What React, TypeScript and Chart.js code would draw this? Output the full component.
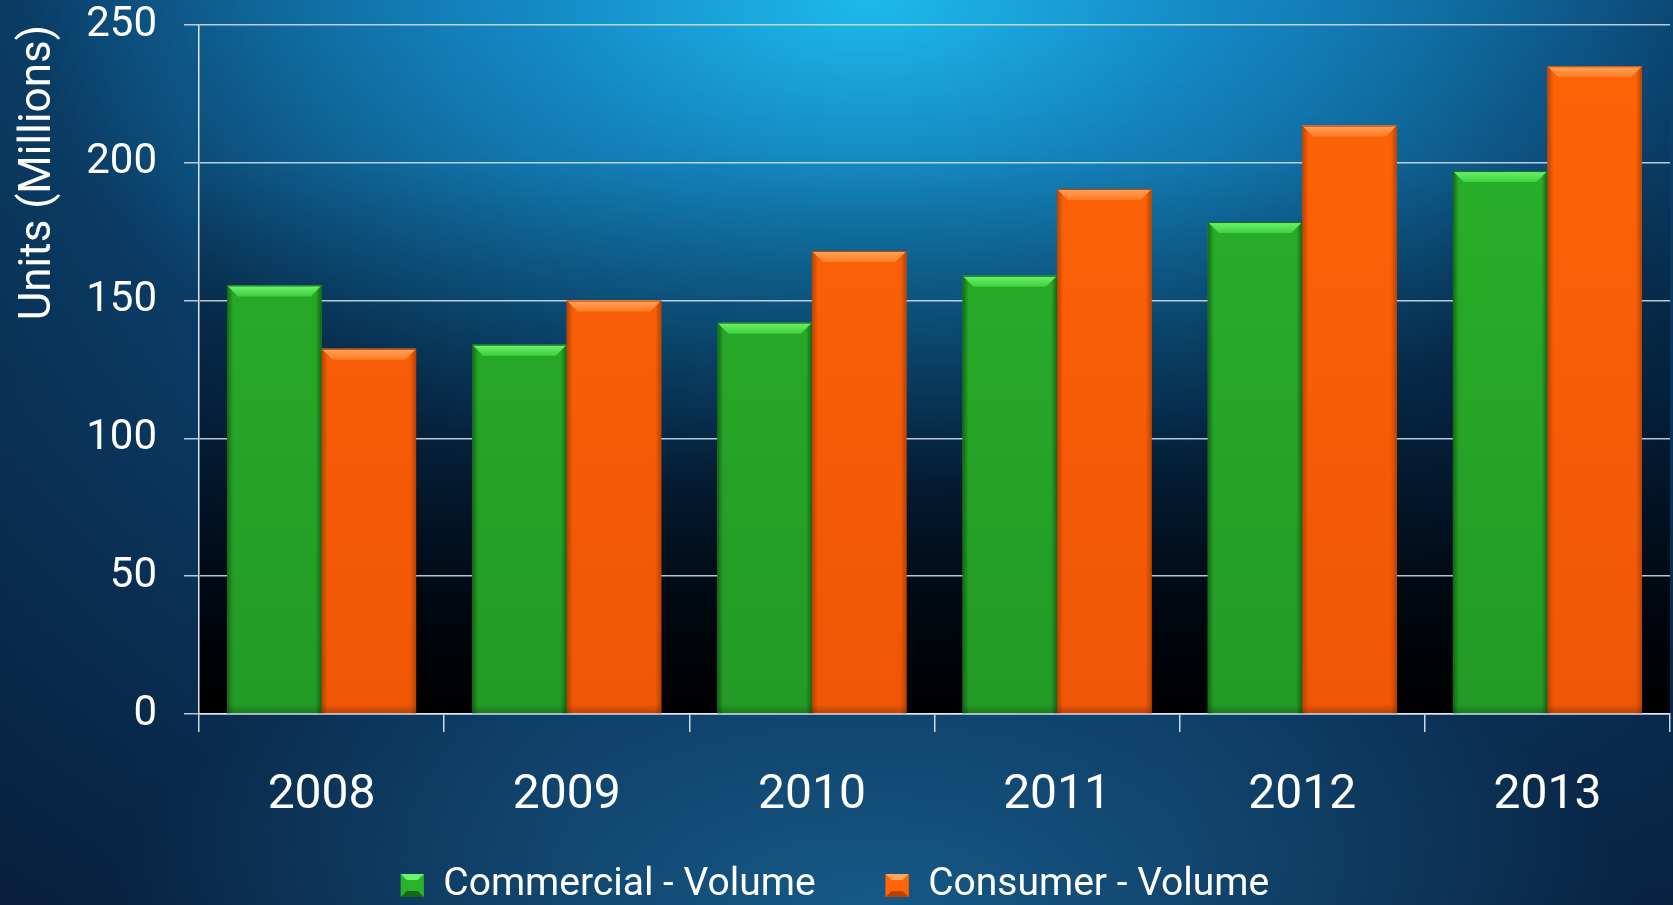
import React, { useEffect, useRef } from "react";
import { Chart, registerables } from "chart.js";

Chart.register(...registerables);

const categories = ["2008", "2009", "2010", "2011", "2012", "2013"];
const commercialVolume = [155.5, 134, 142, 159, 178.5, 197];
const consumerVolume = [132.5, 150, 168, 190.5, 213.5, 235];
const seriesNames = ["Commercial - Volume", "Consumer - Volume"];
const yTicks = [0, 50, 100, 150, 200, 250];
const yTitle = "Units (Millions)";

const palettes = [
  { top: "#2ab32a", bottom: "#239a25", light: "#6cf46c", mid: "#40d040", dark: "rgba(18,100,20,0.95)", clear: "rgba(18,100,20,0)" },
  { top: "#ff6406", bottom: "#ef5606", light: "#ffa55c", mid: "#ff7b24", dark: "rgba(180,65,0,0.95)", clear: "rgba(180,65,0,0)" },
];

function makeFill(idx: number) {
  return (ctx: any) => {
    const chart = ctx.chart;
    const area = chart.chartArea;
    const p = palettes[idx];
    if (!area) return p.top;
    const g = chart.ctx.createLinearGradient(0, area.top, 0, area.bottom);
    g.addColorStop(0, p.top);
    g.addColorStop(1, p.bottom);
    return g;
  };
}

const plotShade = {
  id: "plotShade",
  beforeDraw(chart: any) {
    const { ctx, chartArea } = chart;
    if (!chartArea) return;
    const g = ctx.createLinearGradient(0, chartArea.top, 0, chartArea.bottom);
    g.addColorStop(0, "rgba(0,0,0,0)");
    g.addColorStop(0.2, "rgba(0,0,0,0.05)");
    g.addColorStop(0.55, "rgba(0,5,15,0.45)");
    g.addColorStop(0.85, "rgba(0,3,8,0.92)");
    g.addColorStop(1, "rgba(0,0,0,1)");
    ctx.save();
    ctx.fillStyle = g;
    ctx.fillRect(chartArea.left, chartArea.top, chartArea.right - chartArea.left, chartArea.bottom - chartArea.top);
    ctx.restore();
  },
};

const legendPlace = {
  id: "legendPlace",
  afterLayout(chart: any) {
    const lg = chart.legend;
    if (!lg) return;
    lg.top = 796;
    lg.bottom = 960;
  },
  afterDraw(chart: any) {
    const lg = chart.legend;
    if (!lg || !lg.legendHitBoxes) return;
    const ctx = chart.ctx;
    const bw = 23;
    const fs = 39;
    lg.legendHitBoxes.forEach((hb: any, i: number) => {
      const p = palettes[i];
      const x0 = hb.left;
      const y0 = hb.top + Math.max((fs - bw) / 2, 0);
      const x1 = x0 + bw;
      const y1 = y0 + bw;
      const b = 6;
      ctx.save();
      ctx.fillStyle = p.top;
      ctx.fillRect(x0, y0, bw, bw);
      ctx.fillStyle = p.light;
      ctx.beginPath();
      ctx.moveTo(x0, y0);
      ctx.lineTo(x1, y0);
      ctx.lineTo(x1 - b, y0 + b);
      ctx.lineTo(x0 + b, y0 + b);
      ctx.closePath();
      ctx.fill();
      ctx.fillStyle = p.dark;
      ctx.beginPath();
      ctx.moveTo(x0, y1);
      ctx.lineTo(x1, y1);
      ctx.lineTo(x1 - b, y1 - b);
      ctx.lineTo(x0 + b, y1 - b);
      ctx.closePath();
      ctx.fill();
      ctx.restore();
    });
  },
};

const bevel = {
  id: "bevel",
  afterDatasetsDraw(chart: any) {
    const ctx = chart.ctx;
    chart.data.datasets.forEach((_: any, di: number) => {
      const meta = chart.getDatasetMeta(di);
      const p = palettes[di];
      meta.data.forEach((el: any) => {
        const { x, y, base, width } = el.getProps(["x", "y", "base", "width"], true);
        const l = x - width / 2;
        const r = x + width / 2;
        const b = 11;
        const s = 6;
        ctx.save();
        let g = ctx.createLinearGradient(l, 0, l + s, 0);
        g.addColorStop(0, p.dark);
        g.addColorStop(1, p.clear);
        ctx.fillStyle = g;
        ctx.fillRect(l, y, s, base - y);
        g = ctx.createLinearGradient(r, 0, r - s, 0);
        g.addColorStop(0, p.dark);
        g.addColorStop(1, p.clear);
        ctx.fillStyle = g;
        ctx.fillRect(r - s, y, s, base - y);
        g = ctx.createLinearGradient(0, base, 0, base - 9);
        g.addColorStop(0, "rgba(0,0,0,0.22)");
        g.addColorStop(1, "rgba(0,0,0,0)");
        ctx.fillStyle = g;
        ctx.fillRect(l, base - 9, width, 9);
        g = ctx.createLinearGradient(0, y, 0, y + b);
        g.addColorStop(0, p.light);
        g.addColorStop(1, p.mid);
        ctx.fillStyle = g;
        ctx.beginPath();
        ctx.moveTo(l, y);
        ctx.lineTo(r, y);
        ctx.lineTo(r - b, y + b);
        ctx.lineTo(l + b, y + b);
        ctx.closePath();
        ctx.fill();
        ctx.strokeStyle = p.dark;
        ctx.lineWidth = 1;
        ctx.beginPath();
        ctx.moveTo(l, y + 0.5);
        ctx.lineTo(r, y + 0.5);
        ctx.stroke();
        ctx.restore();
      });
    });
  },
};

export default function App() {
  const ref = useRef<HTMLCanvasElement>(null);

  useEffect(() => {
    document.body.style.margin = "0";
    Chart.defaults.font.family = "Roboto";
    const chart = new Chart(ref.current as HTMLCanvasElement, {
      type: "bar",
      data: {
        labels: categories,
        datasets: [
          {
            label: seriesNames[0],
            data: commercialVolume,
            backgroundColor: makeFill(0),
            borderWidth: 0,
            barPercentage: 1,
            categoryPercentage: 0.771,
          },
          {
            label: seriesNames[1],
            data: consumerVolume,
            backgroundColor: makeFill(1),
            borderWidth: 0,
            barPercentage: 1,
            categoryPercentage: 0.771,
          },
        ],
      },
      options: {
        responsive: false,
        animation: false,
        layout: { padding: { top: 0, right: 3, left: 0, bottom: 0 } },
        plugins: {
          tooltip: { enabled: false },
          legend: {
            position: "bottom",
            maxHeight: 88,
            labels: {
              color: "#ffffff",
              font: { size: 39 },
              boxWidth: 23,
              boxHeight: 23,
              padding: 70,
            },
          },
        },
        scales: {
          x: {
            afterFit(scale: any) {
              scale.height = 103;
            },
            grid: {
              display: true,
              drawOnChartArea: false,
              drawTicks: true,
              tickLength: 18,
              color: "rgba(225,235,245,0.9)",
              lineWidth: 1.5,
            },
            border: { display: true, color: "rgba(225,235,245,0.95)", width: 1.5 },
            ticks: { color: "#ffffff", font: { size: 48 }, padding: 35 },
          },
          y: {
            min: 0,
            max: 250,
            afterFit(scale: any) {
              scale.width = 199;
              scale.paddingTop = 25;
              scale.paddingBottom = 25;
            },
            afterBuildTicks(scale: any) {
              scale.ticks = yTicks.map((v) => ({ value: v }));
            },
            grid: {
              color: "rgba(215,228,240,0.85)",
              lineWidth: 1.5,
              tickLength: 15,
            },
            border: { display: true, color: "rgba(230,238,245,0.95)", width: 1.5 },
            ticks: { color: "#ffffff", font: { size: 42 }, padding: 27 },
            title: {
              display: true,
              text: yTitle,
              align: "end",
              color: "#ffffff",
              font: { size: 44 },
              padding: { top: 13, bottom: 0 },
            },
          },
        },
      },
      plugins: [plotShade, bevel, legendPlace],
    } as any);
    return () => chart.destroy();
  }, []);

  return (
    <div
      style={{
        position: "fixed",
        left: 0,
        top: 0,
        width: 1673,
        height: 905,
        overflow: "hidden",
        background:
          "radial-gradient(ellipse 50% 55% at 52% 0%, rgba(30,185,235,1) 0%, rgba(22,145,205,0.85) 40%, rgba(16,100,160,0) 100%)," +
          "radial-gradient(ellipse 45% 35% at 52% 100%, rgba(24,98,145,0.85) 0%, rgba(24,98,145,0) 100%)," +
          "linear-gradient(to right, rgba(5,18,40,0.45) 0%, rgba(5,18,40,0) 35%, rgba(5,18,40,0) 70%, rgba(5,18,40,0.35) 100%)," +
          "linear-gradient(to bottom, #0e5e95 0%, #0d4675 50%, #0b2b4e 100%)",
      }}
    >
      <canvas ref={ref} width={1673} height={905} style={{ display: "block" }} />
    </div>
  );
}
